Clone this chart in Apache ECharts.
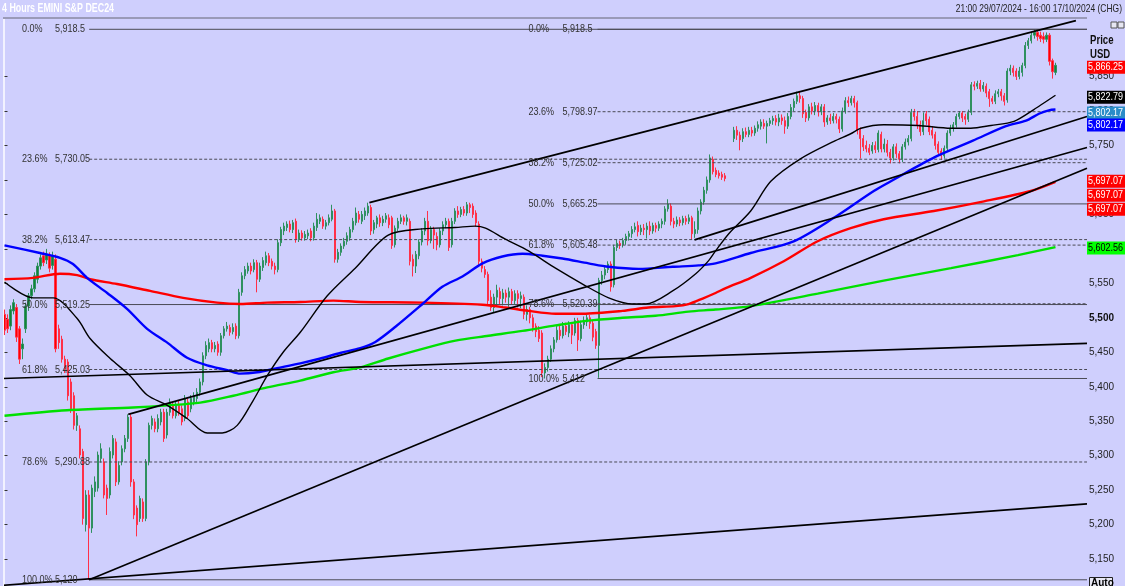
<!DOCTYPE html>
<html><head><meta charset="utf-8">
<script src="https://cdn.jsdelivr.net/npm/echarts@6/dist/echarts.min.js"></script>
<style>html,body{margin:0;padding:0;background:#cfcffd;}#c{width:1125px;height:586px;}</style>
</head><body><div id="c"></div>
<script>
const FF = "'Liberation Sans',Arial,sans-serif";
const titleText = '4 Hours EMINI S&P DEC24';
const rangeText = '21:00 29/07/2024 - 16:00 17/10/2024 (CHG)';
const SLOTS = 361;

// candles: [open, close, low, high]
const candlesA = [
[5505,5482,5475,5512],[5498,5484,5478,5505],[5488,5512,5482,5518],[5510,5522,5505,5527],[5515,5472,5465,5520],
[5484,5440,5433,5488],[5455,5462,5440,5470],[5484,5517,5478,5522],[5517,5532,5510,5536],[5532,5542,5527,5548],
[5542,5561,5537,5566],[5556,5575,5550,5580],[5575,5587,5570,5592],[5590,5580,5575,5596],[5584,5592,5578,5600],
[5590,5572,5566,5595],[5576,5590,5570,5596],[5585,5455,5450,5592],[5484,5464,5455,5490],[5469,5440,5435,5474],
[5440,5426,5420,5445],[5436,5387,5380,5440],[5407,5368,5362,5412],[5387,5344,5338,5392],[5344,5358,5336,5362],
[5339,5301,5296,5344],[5306,5209,5200,5310],[5200,5243,5190,5250],[5243,5195,5120,5250],[5195,5253,5188,5258],
[5248,5262,5240,5270],[5253,5301,5248,5306],[5296,5310,5290,5318],[5291,5243,5238,5296],[5253,5238,5214,5258],
[5243,5306,5238,5312],[5301,5325,5296,5330],[5320,5262,5256,5325],[5262,5286,5258,5292],[5291,5310,5286,5315],
[5310,5325,5305,5330],[5325,5356,5320,5360],[5356,5262,5255,5360],[5262,5214,5208,5266],[5224,5200,5183,5228],
[5209,5238,5204,5242],[5233,5209,5204,5238],[5209,5291,5205,5295],[5291,5344,5286,5348],[5344,5354,5338,5358],
[5349,5339,5334,5354],[5339,5354,5334,5360],[5349,5363,5344,5368],[5363,5325,5320,5368],[5330,5363,5325,5368],
[5363,5378,5358,5383],[5373,5358,5354,5378],[5358,5373,5354,5378],[5373,5363,5358,5380],[5368,5349,5344,5373],
[5354,5383,5350,5388],[5378,5358,5354,5383],[5368,5383,5363,5388],[5378,5387,5373,5392],[5383,5392,5378,5398],
[5392,5407,5387,5412],[5407,5445,5402,5450],[5445,5460,5440,5466],[5455,5464,5450,5470],[5464,5455,5450,5468],
[5455,5460,5450,5465],[5462,5450,5445,5466],[5450,5474,5445,5478],[5474,5484,5470,5488],[5484,5488,5480,5494],
[5486,5479,5474,5490],[5480,5486,5476,5492],[5488,5474,5469,5492],[5474,5537,5470,5542],[5537,5561,5532,5566],
[5561,5570,5556,5575],[5568,5575,5564,5580],[5575,5568,5563,5580],[5570,5580,5566,5585],[5580,5556,5537,5584],
[5556,5575,5552,5580],[5573,5583,5568,5588],[5580,5590,5576,5596],[5590,5580,5575,5594],[5582,5575,5570,5586],
[5575,5570,5563,5580],[5570,5609,5566,5614],[5609,5628,5604,5632],[5626,5633,5620,5638],[5631,5636,5626,5640],
[5636,5628,5624,5641],[5628,5638,5623,5642],[5640,5614,5609,5644],[5614,5623,5610,5628],[5623,5616,5612,5627],
[5616,5621,5612,5626],[5619,5623,5614,5628],[5626,5616,5611,5630],[5616,5633,5612,5638],[5631,5643,5626,5652],
[5640,5645,5636,5650],[5643,5633,5629,5647],[5633,5638,5628,5642],[5638,5645,5634,5650],[5643,5655,5640,5664],
[5655,5585,5580,5658],[5585,5595,5580,5600],[5595,5604,5590,5608],[5604,5611,5600,5616],[5611,5619,5606,5624],
[5616,5628,5612,5632],[5628,5640,5624,5645],[5638,5652,5634,5660],[5650,5643,5638,5655]
];
const candlesB = [
[5640,5650,5636,5655],[5648,5655,5642,5660],[5652,5662,5648,5667],[5660,5626,5620,5664],[5628,5638,5622,5642],
[5636,5645,5630,5648],[5645,5638,5632,5650],[5638,5643,5633,5648],[5643,5648,5638,5652],[5645,5635,5630,5650],
[5645,5605,5600,5648],[5606,5630,5602,5634],[5630,5640,5626,5645],[5640,5645,5636,5650],[5645,5640,5635,5648],
[5640,5645,5634,5650],[5640,5582,5576,5644],[5585,5575,5560,5592],[5575,5592,5565,5597],[5590,5610,5585,5614],
[5610,5626,5605,5630],[5626,5640,5620,5645],[5640,5612,5605,5655],[5612,5628,5608,5633],[5628,5620,5600,5632],
[5618,5606,5598,5624],[5606,5626,5602,5630],[5626,5635,5620,5640],[5635,5640,5630,5645],[5640,5602,5597,5644],
[5606,5640,5602,5645],[5640,5655,5636,5659],[5655,5650,5645,5662],[5650,5657,5646,5661],[5657,5652,5648,5662],
[5652,5664,5648,5668],[5664,5660,5652,5667],[5662,5650,5645,5666],[5652,5638,5632,5656],[5636,5582,5576,5640],
[5582,5572,5566,5586],[5570,5563,5558,5575],[5563,5525,5518,5567],[5530,5515,5510,5540],[5515,5530,5508,5535],
[5530,5540,5518,5548],[5538,5528,5520,5544],[5528,5536,5518,5542],[5536,5530,5522,5541],[5530,5538,5516,5544],
[5538,5525,5520,5542],[5525,5535,5520,5540],[5535,5528,5515,5540],[5528,5532,5514,5538],[5530,5505,5498,5534],
[5505,5512,5496,5518],[5512,5500,5492,5516],[5500,5486,5480,5505],[5488,5480,5472,5492],[5482,5470,5465,5488],
[5478,5420,5414,5482],[5420,5428,5412,5434],[5428,5440,5422,5445],[5440,5455,5436,5460],[5455,5468,5450,5472],
[5468,5482,5464,5488],[5482,5474,5468,5490],[5474,5488,5470,5494],[5488,5480,5475,5493],[5478,5490,5472,5495],
[5490,5475,5462,5494],[5478,5496,5474,5500],[5496,5468,5452,5500],[5470,5490,5466,5496],[5490,5496,5484,5502],
[5494,5500,5488,5505],[5500,5492,5484,5504],[5492,5472,5466,5496],[5480,5460,5455,5484],[5460,5554,5413,5558],
[5554,5562,5548,5568],[5562,5570,5556,5575],[5570,5578,5565,5582],[5578,5545,5538,5582],[5548,5602,5544,5606],
[5602,5608,5597,5613],[5608,5605,5600,5612],[5606,5612,5602,5616],[5612,5618,5606,5622],[5618,5622,5612,5626],
[5622,5628,5616,5633],[5628,5632,5624,5638],[5634,5625,5618,5640],[5625,5630,5620,5635],[5630,5628,5620,5636],
[5628,5633,5615,5638],[5633,5626,5620,5640],[5626,5634,5622,5638],[5634,5630,5624,5638],[5630,5636,5626,5640],
[5636,5640,5630,5644],[5640,5658,5635,5662],[5658,5665,5654,5672],[5662,5640,5634,5666],[5640,5636,5630,5645],
[5636,5642,5632,5647],[5642,5638,5633,5646],[5638,5644,5634,5648],[5644,5640,5635,5648],[5640,5645,5636,5650],
[5645,5622,5614,5648],[5622,5628,5616,5640],[5628,5655,5622,5660],[5655,5668,5650,5672],[5668,5685,5664,5690],
[5685,5700,5680,5705],[5700,5732,5696,5737],[5730,5712,5708,5734],[5714,5708,5704,5718],[5710,5706,5702,5714],
[5708,5704,5700,5712],[5706,5702,5698,5710],
['-','-','-','-'],['-','-','-','-']
];
const candlesC = [
[5760,5772,5755,5777],[5772,5765,5758,5778],[5765,5758,5743,5770],[5760,5770,5755,5775],[5770,5766,5762,5776],
[5766,5772,5762,5777],[5772,5768,5763,5777],[5768,5775,5764,5779],[5775,5780,5770,5785],[5778,5784,5773,5788],
[5782,5778,5774,5788],[5778,5782,5753,5786],[5782,5786,5778,5790],[5786,5789,5780,5793],[5789,5784,5779,5794],
[5784,5790,5778,5796],[5790,5786,5780,5795],[5786,5778,5767,5792],[5778,5792,5774,5797],[5792,5805,5788,5810],
[5805,5814,5800,5818],[5814,5822,5810,5828],[5822,5818,5812,5828],[5818,5796,5790,5822],[5798,5790,5784,5802],
[5790,5806,5786,5810],[5806,5800,5795,5812],[5800,5808,5794,5813],[5808,5799,5792,5812],[5799,5806,5794,5810],
[5806,5784,5777,5810],[5784,5790,5780,5794],[5790,5786,5781,5796],[5786,5792,5782,5797],[5792,5788,5782,5796],
[5788,5774,5768,5792],[5774,5800,5770,5805],[5800,5815,5796,5820],[5815,5812,5806,5821],[5812,5818,5808,5822],
[5818,5812,5805,5822],[5812,5772,5766,5815],[5772,5760,5731,5776],[5760,5748,5742,5765],[5750,5745,5740,5757],
[5746,5740,5736,5752],[5742,5750,5738,5755],[5750,5744,5739,5756],[5744,5768,5740,5772],[5766,5745,5740,5770],
[5745,5752,5740,5760],[5752,5740,5734,5758],[5740,5732,5724,5745],[5732,5748,5728,5752],[5748,5738,5732,5753],
[5738,5730,5724,5742],[5730,5748,5726,5752],[5748,5755,5744,5760],[5755,5760,5750,5765],[5760,5798,5756,5803],
[5798,5792,5786,5803],[5792,5780,5774,5800],[5780,5770,5764,5786],[5770,5786,5765,5798],[5796,5786,5780,5800],
[5788,5770,5765,5792],[5772,5765,5760,5778],[5766,5750,5744,5770],[5752,5740,5735,5756],[5742,5735,5729,5746],
[5735,5746,5731,5750],[5746,5768,5742,5772],[5768,5775,5764,5780],[5775,5780,5770,5784],[5780,5792,5776,5796],
[5792,5797,5788,5800],[5797,5790,5784,5800],[5792,5788,5780,5796],[5788,5798,5784,5802],[5798,5838,5794,5842],
[5838,5836,5830,5843],[5836,5840,5832,5844],[5840,5832,5828,5845],[5832,5837,5828,5842],[5836,5826,5820,5840],
[5828,5818,5806,5832],[5818,5814,5810,5822],[5814,5825,5810,5830],[5825,5828,5820,5832],[5828,5822,5815,5832],
[5822,5814,5808,5826],[5816,5858,5812,5862],[5858,5862,5852,5867],[5862,5856,5850,5866],[5858,5850,5845,5862],
[5850,5858,5846,5864],[5856,5866,5850,5870],[5866,5895,5862,5900],[5895,5902,5890,5906],[5902,5910,5898,5914],
[5910,5914,5905,5918.5],[5914,5908,5902,5917],[5910,5905,5900,5915],[5908,5904,5898,5914],[5904,5910,5900,5914],
[5910,5872,5866,5913],[5873,5857,5847,5876],[5856,5866.25,5852,5870]
];

// moving averages: [bar index, price]
const blackMA = [[0,5552],[9.5,5529],[16.2,5529],[24.2,5499],[28.5,5470],[35.2,5441],[41.8,5416],[47.5,5388],[54.2,5373],[60.8,5354],[67.5,5333],[72.5,5333],[77.5,5344],[82.8,5380],[87.5,5416],[92.8,5450],[98.5,5479],[107.5,5532],[116.8,5572],[127.8,5620],[139.2,5629],[150,5631],[156.8,5633],[160.2,5630],[166.8,5614],[174.5,5597],[183.5,5572],[192.5,5549],[201.2,5529],[209.2,5520],[213.5,5520],[222.5,5539],[230.2,5564],[234.5,5583],[236.8,5597],[241.2,5622],[248.5,5655],[255.2,5698],[265.2,5731],[276.2,5756],[281.8,5767],[285.2,5775],[292.8,5780],[304.2,5779],[315.2,5775],[321.8,5775],[328.5,5779],[336.2,5785],[342.8,5802],[350,5822.79]];
const blueMA = [[0,5605],[11.8,5594],[18.5,5587],[22.8,5578],[27.5,5558],[34.2,5536],[40.8,5513],[47.5,5484],[54.2,5464],[60.8,5442],[67.5,5431],[74.2,5424],[78.5,5419],[84.2,5421],[90.8,5427],[98.5,5434],[105.2,5441],[111.8,5449],[118.5,5456],[123.5,5465],[130.2,5487],[139.2,5520],[145.8,5545],[152.5,5560],[159.2,5579],[165.8,5589],[172.5,5593],[179.2,5590],[185.8,5586],[194.5,5579],[201.2,5574],[211.2,5571],[222.5,5574],[231.2,5576],[236.8,5579],[248.5,5594],[262.8,5611],[276.2,5645],[289.5,5684],[296.8,5702],[305.8,5724],[311.2,5736],[322.5,5757],[333.5,5778],[340.2,5786],[344.5,5796],[347.8,5801],[350,5802.17]];
const redMA = [[0,5556],[9.5,5558],[18.5,5564],[24.2,5562],[28.5,5556],[37.5,5549],[48.5,5539],[59.5,5529],[70.8,5522],[78.5,5520],[87.5,5522],[98.5,5523],[109.5,5525],[118.5,5523],[139.2,5522],[159.2,5519],[166.8,5515],[174.5,5510],[183.5,5506],[192.5,5506],[205.8,5510],[214.5,5515],[223.5,5517],[227.8,5520],[232.5,5528],[236.8,5536],[240.2,5543],[248.5,5558],[259.5,5582],[270.8,5611],[281.8,5630],[292.8,5643],[309.5,5655],[326.2,5669],[341.8,5684],[350,5697.07]];
const greenMA = [[0,5358],[20.8,5366],[42.8,5370],[54.2,5373],[65.2,5377],[76.2,5387],[87.5,5399],[98.5,5409],[109.5,5421],[118.5,5428],[127.8,5441],[139.2,5455],[150.2,5467],[161.2,5474],[172.5,5481],[183.5,5489],[194.5,5496],[205.8,5500],[216.8,5503],[227.8,5509],[236.8,5512],[248.5,5517],[270.8,5535],[292.8,5554],[315.2,5572],[337.5,5591],[350,5602.56]];

// trend lines: [startIndex, startPrice, endIndex, endPrice]
const trendLines = [[121.5,5667,356.8,5931],[41.2,5360,360.5,5747],[229.8,5613,360.5,5792],[28.2,5120,360.5,5717],[-0.5,5412,360.5,5463],[-0.5,5112,360.5,5230]];

// Fibonacci retracements
const fibPct = ['0.0%','23.6%','38.2%','50.0%','61.8%','78.6%','100.0%'];
const fibDashed = [false,true,true,false,true,true,false];
const fib1Val = [5918.5,5730.05,5613.47,5519.25,5425.03,5290.88,5120];
const fib2Val = [5918.5,5798.97,5725.02,5665.25,5605.48,5520.39,5412];
const fibStart = [28.2, 197.5];
const fibLabelAt = [5.83, 174.5];

// price axis
const tickVals = [5150,5200,5250,5300,5350,5400,5450,5500,5550,5600,5650,5700,5750,5800,5850];
const boxVals = [5866.25,5822.79,5802.17,5802.17,5697.07,5697.07,5697.07,5602.56];
const boxFill = ['#ff0000','#000000','#2a8cc8','#0000ff','#ff0000','#ff0000','#ff0000','#00ff00'];
const boxInk = ['#ffffff','#ffffff','#ffffff','#ffffff','#ffffff','#ffffff','#ffffff','#000000'];
const boxShift = [2,2,3.5,15.5,-0.7,13.3,27.3,1];

const fmt = v => v.toLocaleString('en-US',{maximumFractionDigits:2});
const categories = Array.from({length:SLOTS},(_,i)=>String(i));
const candles = candlesA.concat(candlesB, candlesC);

const series = [];
series.push({
  type:'candlestick', xAxisIndex:0, yAxisIndex:0, data:candles, barWidth:1.6, silent:true, z:2,
  itemStyle:{color:'#118536', color0:'#ff0000', borderColor:'#2f9060', borderColor0:'#ff3048', borderWidth:1}
});
const maDefs = [[greenMA,'#00e000',2.4],[redMA,'#ff0000',2.4],[blueMA,'#0000ff',2.4],[blackMA,'#000000',1.4]];
maDefs.forEach(d=>series.push({type:'line', xAxisIndex:1, yAxisIndex:0, data:d[0], showSymbol:false, smooth:0.3, silent:true, z:4,
  lineStyle:{color:d[1], width:d[2]}}));
trendLines.forEach(t=>series.push({type:'line', xAxisIndex:1, yAxisIndex:0, data:[[t[0],t[1]],[t[2],t[3]]], showSymbol:false, silent:true, z:5,
  lineStyle:{color:'#000000', width:1.7}}));
[fib1Val, fib2Val].forEach((vals,k)=>{
  vals.forEach((v,j)=>{
    series.push({type:'line', xAxisIndex:1, yAxisIndex:0, data:[[fibStart[k],v],[360.5,v]], showSymbol:false, silent:true, z:3,
      lineStyle:{color:'#4a4a55', width:1, type: fibDashed[j]?[3,2]:'solid'}});
  });
});

const chart = echarts.init(document.getElementById('c'), null, {renderer:'canvas'});
chart.setOption({
  backgroundColor:'#cfcffd',
  animation:false,
  grid:{left:3, right:38, top:18, bottom:0},
  xAxis:[
    {type:'category', data:categories, boundaryGap:true, show:false},
    {type:'value', min:-0.5, max:SLOTS-0.5, show:false}
  ],
  yAxis:[{type:'value', position:'right', min:5111.0, max:5934.9, scale:true,
    splitLine:{show:false},
    axisLine:{show:true, lineStyle:{color:'#f2f2ff', width:1}},
    axisTick:{show:true, length:3, lineStyle:{color:'#333'}, customValues:tickVals},
    axisLabel:{margin:2, fontSize:10, color:'#1e1e1e', fontFamily:FF, customValues:tickVals,
      formatter:v=> v===5500 ? '{bd|'+fmt(v)+'}' : fmt(v),
      rich:{bd:{fontWeight:'bold', fontSize:10, color:'#111', fontFamily:FF}}}
  }],
  series:series
});

const yPix = v => chart.convertToPixel({yAxisIndex:0}, v);
const xPix = i => chart.convertToPixel({xAxisIndex:1}, i);
const g = [];
const SX = 0.82;
g.push({type:'line', shape:{x1:3,y1:18,x2:1087,y2:18}, style:{stroke:'#9a9ab8', lineWidth:2}, z:100});
g.push({type:'line', shape:{x1:3.5,y1:19,x2:3.5,y2:586}, style:{stroke:'#f2f2ff', lineWidth:1}, z:100});
g.push({type:'text', x:2, y:3, scaleX:0.74, style:{text:titleText, fill:'#ffffff', font:"bold 12px "+FF}, z:100});
g.push({type:'text', x:1122, y:3, scaleX:0.77, style:{text:rangeText, fill:'#222', font:"11px "+FF, textAlign:'right'}, z:100});
g.push({type:'text', x:1090, y:35, scaleX:0.8, style:{text:'Price', fill:'#111', font:"bold 12px "+FF}, z:100});
g.push({type:'text', x:1090, y:49, scaleX:0.8, style:{text:'USD', fill:'#111', font:"bold 12px "+FF}, z:100});
g.push({type:'rect', shape:{x:1111,y:22,width:6,height:6}, style:{fill:'#e6e6f2', stroke:'#555', lineWidth:1}, z:100});
g.push({type:'rect', shape:{x:1118,y:22,width:6,height:6}, style:{fill:'#e6e6f2', stroke:'#555', lineWidth:1}, z:100});
g.push({type:'rect', shape:{x:1089.5,y:577.5,width:23,height:12}, style:{fill:'#e8e8f4', stroke:'#222', lineWidth:1}, z:100});
g.push({type:'text', x:1091, y:578, style:{text:'Auto', fill:'#000', font:"bold 10px "+FF}, z:101});
// fib labels
[fib1Val, fib2Val].forEach((vals,k)=>{
  const x0 = xPix(fibLabelAt[k]);
  vals.forEach((v,j)=>{
    const y = yPix(v);
    g.push({type:'text', x:x0, y:y, scaleX:SX, style:{text:fibPct[j], fill:'#333', font:"11px "+FF, textVerticalAlign:'middle'}, z:90});
    g.push({type:'text', x:x0+(k?34:33), y:y, scaleX:SX, style:{text:fmt(v), fill:'#333', font:"11px "+FF, textVerticalAlign:'middle'}, z:90});
  });
});
// price boxes
boxVals.forEach((v,k)=>{
  const cy = yPix(v) + boxShift[k];
  g.push({type:'rect', shape:{x:1087, y:cy-6.5, width:38, height:13}, style:{fill:boxFill[k]}, z:110});
  g.push({type:'text', x:1088, y:cy, scaleX:SX, style:{text:fmt(v), fill:boxInk[k], font:"11px "+FF, textVerticalAlign:'middle'}, z:111});
});
chart.setOption({graphic:g});
</script></body></html>
